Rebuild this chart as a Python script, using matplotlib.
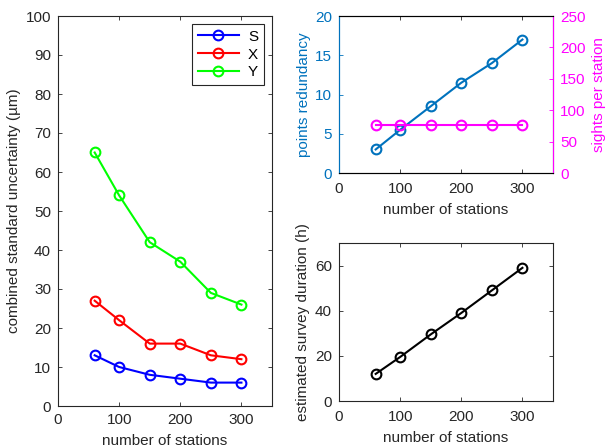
import matplotlib.pyplot as plt

plt.rcParams['font.family'] = ['Liberation Sans', 'DejaVu Sans']
plt.rcParams['font.size'] = 11

stations = [60, 100, 150, 200, 250, 300]
unc_S = [13, 10, 8, 7, 6, 6]
unc_X = [27, 22, 16, 16, 13, 12]
unc_Y = [65, 54, 42, 37, 29, 26]
redundancy = [3, 5.5, 8.5, 11.5, 14, 17]
sights = [77, 77, 77, 77, 77, 77]
duration = [12, 19.5, 29.5, 39, 49, 59]

grey = (0.15, 0.15, 0.15)
mblue = (0, 0.447, 0.741)
magenta = (1, 0, 1)
W, H = 608, 448


def style(ax, color=grey):
    for s in ax.spines.values():
        s.set_color(grey)
        s.set_linewidth(0.8)
    ax.tick_params(direction='in', length=3, width=0.6, colors=color,
                   labelsize=11, pad=5, top=True, right=True)
    ax.tick_params(axis='x', pad=6.5)
    ax.set_xlim(0, 350)
    ax.set_xticks([0, 100, 200, 300])
    ax.set_xlabel('number of stations', color=grey, labelpad=5)


fig = plt.figure(figsize=(W / 100, H / 100), dpi=100)

# left panel
ax1 = fig.add_axes([58 / W, 1 - 406 / H, (272 - 58) / W, (406 - 16) / H])
kw = dict(marker='o', markersize=7, markerfacecolor='none', markeredgewidth=1.5, linewidth=1.5)
ax1.plot(stations, unc_S, color='b', label='S', **kw)
ax1.plot(stations, unc_X, color='r', label='X', **kw)
ax1.plot(stations, unc_Y, color=(0, 1, 0), label='Y', **kw)
style(ax1)
ax1.tick_params(axis='x', pad=5)
ax1.set_ylim(0, 100)
ax1.set_yticks(range(0, 101, 10))
ax1.set_ylabel('combined standard uncertainty (µm)', color=grey, labelpad=3)
leg = ax1.legend(loc='upper right', fancybox=False, framealpha=1, edgecolor=grey,
                 handlelength=2.7, handletextpad=0.6, borderaxespad=0.55,
                 labelspacing=0.25, borderpad=0.35, fontsize=11)
leg.get_frame().set_linewidth(0.8)

# top right panel
ax2 = fig.add_axes([339 / W, 1 - 173 / H, (553 - 339) / W, (173 - 16) / H])
ax2.plot(stations, redundancy, color=mblue, **kw)
style(ax2)
ax2.tick_params(axis='y', colors=mblue, right=False)
ax2.set_ylim(0, 20)
ax2.set_yticks([0, 5, 10, 15, 20])
ax2.set_ylabel('points redundancy', color=mblue, labelpad=3)
ax2.spines['left'].set_color(mblue)
ax3 = ax2.twinx()
ax3.plot(stations, sights, color=magenta, **kw)
ax3.set_ylim(0, 250)
ax3.set_yticks(range(0, 251, 50))
ax3.tick_params(direction='in', length=3, width=0.6, colors=magenta, labelsize=11, pad=5)
ax3.set_ylabel('sights per station', color=magenta, labelpad=5)
ax3.spines['right'].set_color(magenta)
ax3.spines['left'].set_color(mblue)

# bottom right panel
ax4 = fig.add_axes([339 / W, 1 - 401 / H, (553 - 339) / W, (401 - 243) / H])
ax4.plot(stations, duration, color='k', **kw)
style(ax4)
ax4.set_ylim(0, 70)
ax4.set_yticks([0, 20, 40, 60])
ax4.set_ylabel('estimated survey duration (h)', color=grey, labelpad=4)

fig.savefig('out.png', dpi=100)
